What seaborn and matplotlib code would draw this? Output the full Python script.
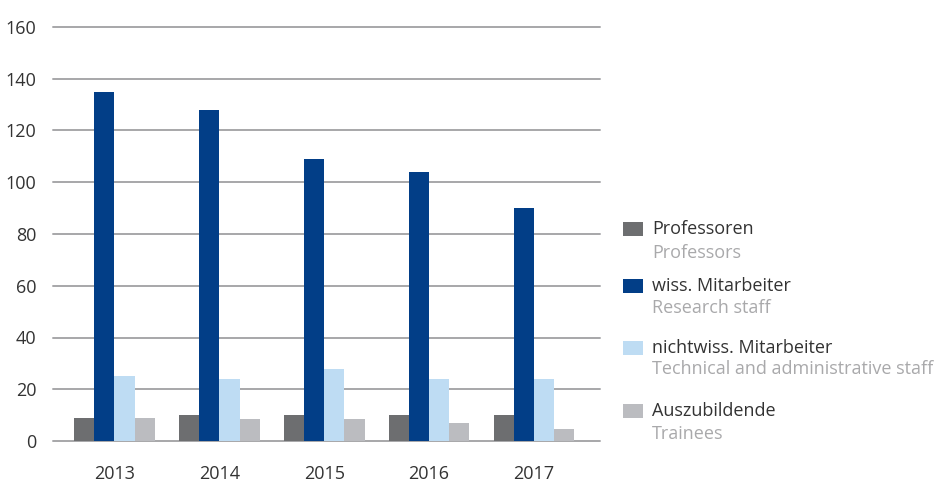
import matplotlib
matplotlib.use("Agg")
import matplotlib.pyplot as plt
from matplotlib.patches import Rectangle
import seaborn as sns
import pandas as pd

years = ["2013", "2014", "2015", "2016", "2017"]
series_de = ["Professoren", "wiss. Mitarbeiter", "nichtwiss. Mitarbeiter", "Auszubildende"]
series_en = ["Professors", "Research staff", "Technical and administrative staff", "Trainees"]
professoren = [9, 10, 10, 10, 10]
wiss = [135, 128, 109, 104, 90]
nichtwiss = [25, 24, 28, 24, 24]
azubi = [9, 8.5, 8.5, 7, 4.6]
colors = ["#6d6e70", "#023e87", "#bedcf3", "#bbbcc0"]

rows = []
for name, vals in zip(series_de, [professoren, wiss, nichtwiss, azubi]):
    for y, v in zip(years, vals):
        rows.append({"Jahr": y, "Gruppe": name, "Wert": v})
df = pd.DataFrame(rows)

sns.set_theme(style="white")
plt.rcParams["font.family"] = ["Open Sans", "DejaVu Sans"]

W, H = 942, 483
fig = plt.figure(figsize=(W / 100, H / 100), dpi=100)
ax_left, ax_right, ax_bottom_px, ax_top_px = 53, 600, 441, 27
ax = fig.add_axes([ax_left / W, (H - ax_bottom_px) / H,
                   (ax_right - ax_left) / W, (ax_bottom_px - ax_top_px) / H])

sns.barplot(data=df, x="Jahr", y="Wert", hue="Gruppe", order=years,
            hue_order=series_de, palette=colors, width=0.77, gap=0,
            saturation=1, legend=False, ax=ax, zorder=3,
            linewidth=0, edgecolor="none")

ax.set_ylim(0, 160)
ax.set_xlim(-0.586, 4.63)
ax.set_yticks(range(0, 161, 20))
for v in range(0, 161, 20):
    ax.axhline(v, color="#a7a7a9", lw=1.4, zorder=1, clip_on=False)
for s in ax.spines.values():
    s.set_visible(False)
ax.set_xlabel("")
ax.set_ylabel("")
ax.tick_params(axis="both", length=0, labelsize=13, labelcolor="#333333")
ax.tick_params(axis="y", pad=12)
ax.tick_params(axis="x", pad=17)
for lbl in ax.get_yticklabels():
    lbl.set_horizontalalignment("right")

# custom two-line legend
sq_y = [229, 286, 348, 411]
en_y = [253, 308, 369, 434]
for c, de, en, sy, ey in zip(colors, series_de, series_en, sq_y, en_y):
    fig.add_artist(Rectangle(((623) / W, (H - sy - 7) / H), 20 / W, 14 / H,
                             transform=fig.transFigure, facecolor=c, edgecolor="none"))
    fig.text(652 / W, (H - sy) / H, de, fontsize=13, color="#333333", va="center", ha="left")
    fig.text(652 / W, (H - ey) / H, en, fontsize=13, color="#a9a9ab", va="center", ha="left")

fig.savefig("out.png", dpi=100, facecolor="white")
